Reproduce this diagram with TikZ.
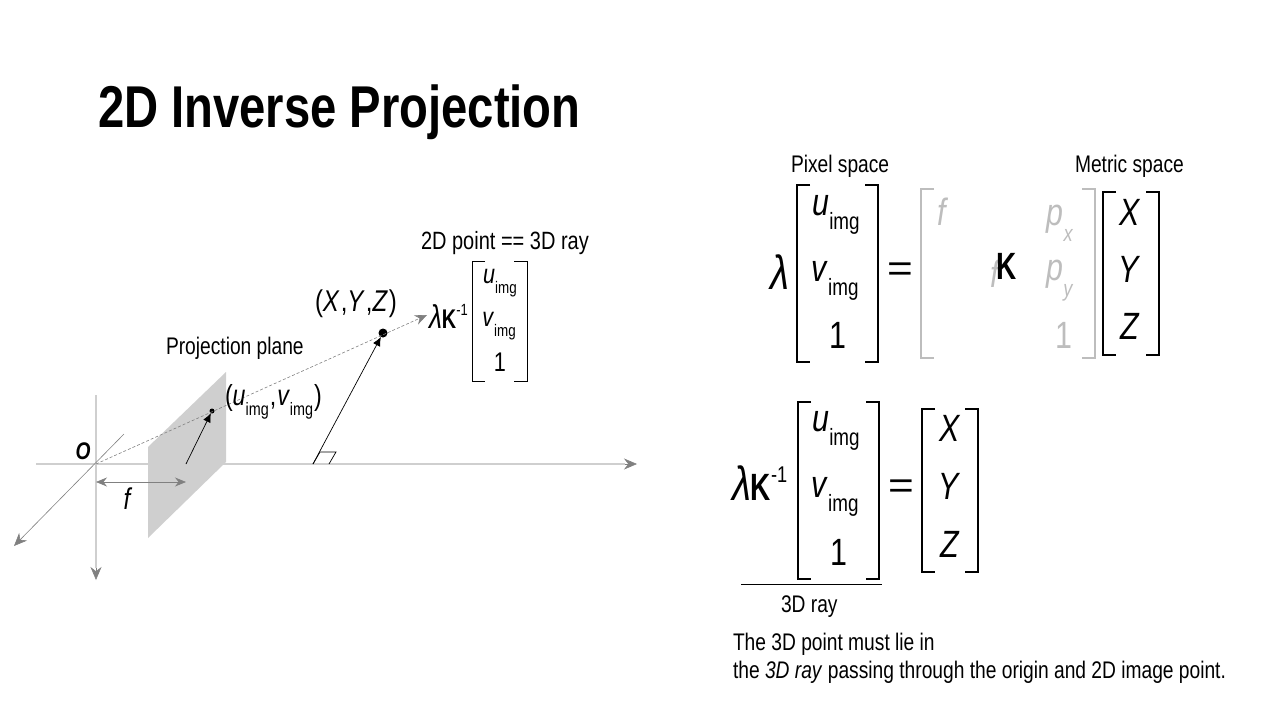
\documentclass[tikz,border=0pt]{standalone}
\usepackage{fontspec}
\setmainfont[FakeStretch=0.8]{Liberation Sans}
\usepackage{xcolor}
\usetikzlibrary{arrows.meta}
\definecolor{axisgray}{HTML}{CFCFCF}
\definecolor{tipgray}{HTML}{808080}
\definecolor{fadegray}{HTML}{BDBDBD}
\newcommand{\fsize}[1]{\fontsize{#1}{#1}\selectfont}
\newcommand{\imgsub}[1]{\textit{#1}\raisebox{-.36em}{\scalebox{.62}{img}}}
\newcommand{\psub}[1]{\textit{p}\raisebox{-.42em}{\scalebox{.6}{\textit{#1}}}}
\newcommand{\wideeq}{\scalebox{1.45}[1]{=}}
\newcommand{\slimk}{\scalebox{.92}[1]{\textbf{K}}}
% one bracket pair: left x, right x, top y, bottom y
\newcommand{\matbr}[5][]{
  \draw[brack,#1] (#2+13,#4) -- (#2,#4) -- (#2,#5) -- (#2+13,#5);
  \draw[brack,#1] (#3-13,#4) -- (#3,#4) -- (#3,#5) -- (#3-13,#5);
}
\begin{document}
\begin{tikzpicture}[
    x=1pt, y=-1pt,
    every node/.style={inner sep=0pt, outer sep=0pt},
    title/.style={anchor=base west, font=\bfseries\fsize{59}},
    lbl/.style={anchor=base west, font=\fsize{24}},
    sym/.style={anchor=center, font=\fsize{38}},
    symsmall/.style={anchor=center, font=\fsize{27}},
    axis/.style={draw=axisgray, line width=2pt},
    axistip/.style={draw=tipgray, line width=.6pt, -{Stealth[length=13pt,width=11pt]}},
    thinaxis/.style={draw=tipgray, line width=.6pt, -{Stealth[length=13pt,width=11pt]}},
    dim/.style={draw=tipgray, line width=.7pt, {Stealth[length=11pt,width=9pt]}-{Stealth[length=11pt,width=9pt]}},
    ray/.style={draw=tipgray, line width=.6pt, dash pattern=on 3pt off 2pt, -{Stealth[length=12pt,width=10pt]}},
    vec/.style={draw=black, line width=.7pt, -{Latex[length=9pt,width=8pt]}},
    brack/.style={draw=black, line width=1.5pt},
    fade/.style={text=fadegray}
]
\useasboundingbox (0,0) rectangle (1280,720);
\node[title] (head) at (98,127) {2D Inverse Projection};

% plane and axes
\fill[axisgray] (148,447) -- (226,372) -- (226,462) -- (148,538) -- cycle;
\coordinate (org) at (96,464);
\coordinate (xend) at (637,464);
\coordinate (xtip) at (625,464);
\coordinate (yend) at (96,580);
\coordinate (ytip) at (96,568);
\coordinate (ytop) at (96,395);
\coordinate (zend) at (14,546);
\coordinate (ztop) at (124,434);
\coordinate (xleft) at (36,464);
\draw[axis] (xleft) -- (xtip);
\draw[axistip] (xtip) -- (xend);
\draw[axis] (ytop) -- (ytip);
\draw[axistip] (ytip) -- (yend);
\draw[thinaxis] (ztop) -- (zend);

\coordinate (imgfoot) at (186,464);
\coordinate (ptfoot) at (313,464);
\coordinate (rayend) at (427,315);
\node[circle, fill=black, minimum size=5pt] (imgpt) at (212,411) {};
\node[circle, fill=black, minimum size=9pt] (pt3d) at (383,333) {};
\draw[ray] (org) -- (rayend);
\draw[vec] (imgfoot) -- (imgpt);
\draw[vec] (ptfoot) -- (pt3d);
\draw[line width=.7pt] (ptfoot) -- (320,452) -- (336,452) -- (329,464);

\coordinate (fleft) at (96,482);
\coordinate (fright) at (186,482);
\draw[dim] (fleft) -- (fright);
\node[font=\fsize{30}] (flabel) at (128,499) {\textit{f}};
\node[font=\bfseries\itshape\fsize{24}] (olabel) at (83,451) {O};

\node[lbl] (planelabel) at (166,354) {Projection plane};
\node[anchor=base west, font=\fsize{29}] (uvlabel) at (225,405) {(\imgsub{u}\kern1pt,\kern1pt\imgsub{v}\kern1pt)};
\node[anchor=base west, font=\fsize{30}] (xyzlabel) at (315,311) {(\textit{X}\kern1pt,\textit{Y}\kern1pt,\textit{Z}\kern1pt)};

% small matrix next to the ray
\node[anchor=base west, font=\fsize{25}] (raylabel) at (421,249) {2D point == 3D ray};
\node[anchor=base west, font=\fsize{27}] (lamsmall) at (429,328) {{\fsize{33}\textit{λ}}\slimk\raisebox{.45em}{\scalebox{.6}{-1}}};
\matbr[line width=1pt]{472}{527}{261}{381}
\node[symsmall] (usmall) at (500,283) {\imgsub{u}};
\node[symsmall] (vsmall) at (499,326) {\imgsub{v}};
\node[symsmall] (onesmall) at (500,362) {1};

% upper equation
\node[lbl] (pixlabel) at (791,172) {Pixel space};
\node[lbl] (metlabel) at (1075,172) {Metric space};
\node[sym, font=\fsize{48}] (lamtop) at (780,272) {\textit{λ}};
\matbr{797}{878}{185}{362}
\node[sym] (utop) at (836,215) {\imgsub{u}};
\node[sym] (vtop) at (835,281) {\imgsub{v}};
\node[sym] (onetop) at (838,335) {1};
\node[sym] (eqtop) at (900,272) {\wideeq};
\matbr[draw=fadegray]{921}{1095}{189}{358}
\node[sym, fade] (f1) at (943,212) {\textit{f}};
\node[sym, fade] (f2) at (996,274) {\textit{f}};
\node[sym, font=\fsize{38}] (kmat) at (1007,266) {\slimk};
\node[sym, fade] (px) at (1060,223) {\psub{x}};
\node[sym, fade] (py) at (1060,281) {\psub{y}};
\node[sym, fade] (onegray) at (1064,335) {1};
\matbr{1103}{1159}{192}{355}
\node[sym] (xtop) at (1130,212) {\textit{X}};
\node[sym] (ytopsym) at (1130,269) {\textit{Y}};
\node[sym] (ztopsym) at (1130,326) {\textit{Z}};

% lower equation
\node[anchor=base west, font=\fsize{38}] (lamk) at (732,500) {{\fsize{48}\textit{λ}}\slimk\raisebox{.45em}{\scalebox{.6}{-1}}};
\matbr{798}{879}{402}{579}
\node[sym] (ubot) at (836,431) {\imgsub{u}};
\node[sym] (vbot) at (835,497) {\imgsub{v}};
\node[sym] (onebot) at (839,552) {1};
\node[sym] (eqbot) at (901,489) {\wideeq};
\matbr{922}{978}{409}{572}
\node[sym] (xbot) at (950,428) {\textit{X}};
\node[sym] (ybot) at (950,486) {\textit{Y}};
\node[sym] (zbot) at (950,544) {\textit{Z}};
\coordinate (ulleft) at (741,584);
\coordinate (ulright) at (882,584);
\draw[line width=.8pt] (ulleft) -- (ulright);
\node[lbl] (raybot) at (781,612) {3D ray};
\node[lbl] (note1) at (733,650) {The 3D point must lie in};
\node[lbl] (note2) at (733,678) {the \textit{3D ray} passing through the origin and 2D image point.};
\end{tikzpicture}
\end{document}
